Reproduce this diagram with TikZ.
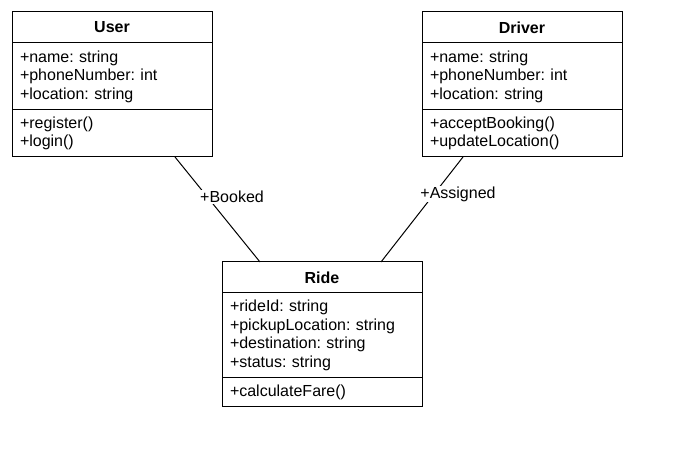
\documentclass[tikz,border=0pt]{standalone}
\usepackage{fontspec}
\setmainfont{Liberation Sans}
\frenchspacing
\begin{document}
\begin{tikzpicture}[x=1pt,y=-1pt,
  box/.style={draw=black, line width=1pt, fill=white, minimum width=200pt, inner sep=0pt, outer sep=0pt, anchor=north west},
  hdr/.style={box, minimum height=31pt, font=\fontsize{16}{18.5}\selectfont\bfseries},
  body/.style={box, inner xsep=8pt, text width=184pt, align=left, font=\fontsize{16}{18.5}\selectfont\frenchspacing},
  lbl/.style={fill=white, inner sep=1pt, font=\fontsize{16}{18.5}\selectfont},
  assoc/.style={draw=black, line width=1pt}]
\useasboundingbox (0,0) rectangle (673,457);
\fill[white] (0,0) rectangle (673,457);
% User
\node[hdr] (userh) at (12,12) {User};
\node[body, minimum height=67pt] (usera) at (userh.south west) {+name: string\\+phoneNumber: int\\+location: string};
\node[body, minimum height=47pt] (userm) at (usera.south west) {+register()\\+login()};
% Driver
\node[hdr] (drvh) at (422,12) {Driver};
\node[body, minimum height=67pt] (drva) at (drvh.south west) {+name: string\\+phoneNumber: int\\+location: string};
\node[body, minimum height=47pt] (drvm) at (drva.south west) {+acceptBooking()\\+updateLocation()};
% Ride
\node[hdr] (rideh) at (222,262) {Ride};
\node[body, minimum height=85pt] (ridea) at (rideh.south west) {+rideId: string\\+pickupLocation: string\\+destination: string\\+status: string};
\node[body, minimum height=29pt] (ridem) at (ridea.south west) {+calculateFare()};
% associations
\draw[assoc] ([xshift=163pt]userm.south west) -- ([xshift=38pt]rideh.north west);
\draw[assoc] ([xshift=41pt]drvm.south west) -- ([xshift=159pt]rideh.north west);
\node[lbl] (booked) at (232,197) {+Booked};
\node[lbl] (assigned) at (458,194) {+Assigned};
\end{tikzpicture}
\end{document}
